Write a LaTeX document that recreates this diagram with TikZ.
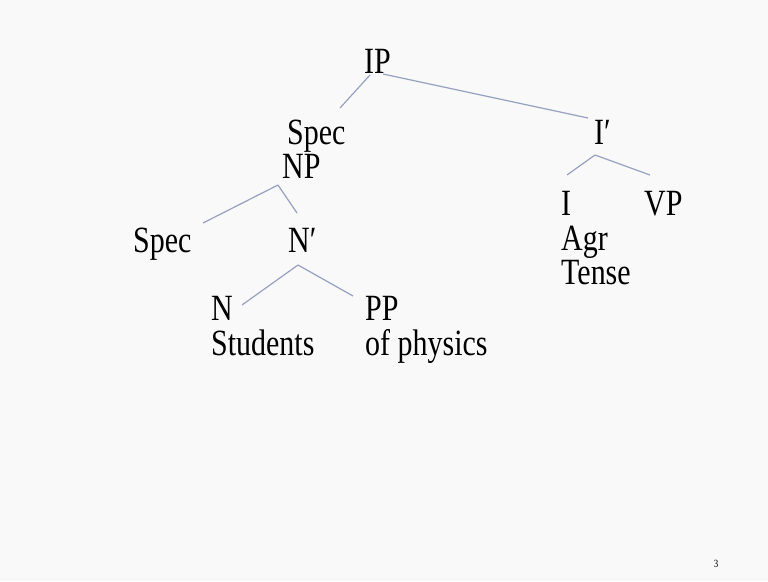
\documentclass[tikz,border=0pt]{standalone}
\usepackage{fontspec}
\setmainfont{Liberation Serif}[FakeStretch=0.81]
\definecolor{bg}{RGB}{249,249,249}
\definecolor{edge}{RGB}{150,160,192}
\begin{document}
\begin{tikzpicture}[x=1pt,y=-1pt,
  lbl/.style={inner sep=0pt,font=\fontsize{37}{40}\selectfont,anchor=base west},
  br/.style={draw=edge,line width=1.2pt}]
\fill[bg] (0,0) rectangle (768,581);
\useasboundingbox (0,0) rectangle (768,581);
% labels
\node[lbl] (IP) at (364,73) {IP};
\node[lbl] (SpecA) at (287,144) {Spec};
\node[lbl] (NP) at (282,178) {NP};
\node[lbl] (Ibar) at (594,144) {I′};
\node[lbl] (I) at (561,215) {I};
\node[lbl] (VP) at (644,215) {VP};
\node[lbl] (Agr) at (561,250) {Agr};
\node[lbl] (Tense) at (561,284) {Tense};
\node[lbl] (SpecB) at (133,252) {Spec};
\node[lbl] (Nbar) at (288,252) {N′};
\node[lbl] (N) at (211,320) {N};
\node[lbl] (Students) at (211,355) {Students};
\node[lbl] (PP) at (365,320) {PP};
\node[lbl] (phys) at (365,355) {of physics};
\node[inner sep=0pt,font=\fontsize{11}{12}\selectfont,anchor=base] (pg) at (716,567) {3};
% connector end points
\coordinate (ipL) at (370,75);
\coordinate (ipR) at (383,74);
\coordinate (specT) at (340,108);
\coordinate (ibarT) at (588,118);
\coordinate (ibarB) at (595,155);
\coordinate (iT) at (567,175);
\coordinate (vpT) at (650,175);
\coordinate (npB) at (278,185);
\coordinate (specBT) at (203,223);
\coordinate (nbarT) at (297,213);
\coordinate (nbarB) at (298,265);
\coordinate (nT) at (242,305);
\coordinate (ppT) at (353,296);
% connectors
\draw[br] (ipL) -- (specT);
\draw[br] (ipR) -- (ibarT);
\draw[br] (ibarB) -- (iT);
\draw[br] (ibarB) -- (vpT);
\draw[br] (npB) -- (specBT);
\draw[br] (npB) -- (nbarT);
\draw[br] (nbarB) -- (nT);
\draw[br] (nbarB) -- (ppT);
\end{tikzpicture}
\end{document}
